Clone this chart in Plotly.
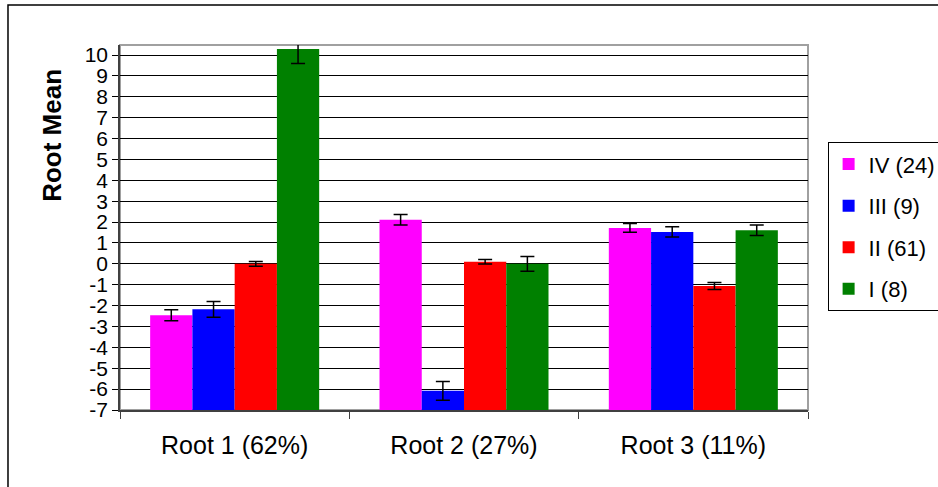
import plotly.graph_objects as go

categories = ["Root 1 (62%)", "Root 2 (27%)", "Root 3 (11%)"]
series_names = ["IV (24)", "III (9)", "II (61)", "I (8)"]
series_colors = ["#ff00ff", "#0000ff", "#ff0000", "#008000"]
values_IV = [-2.46, 2.11, 1.72]
values_III = [-2.18, -6.08, 1.53]
values_II = [0.0, 0.10, -1.06]
values_I = [10.29, 0.0, 1.61]
err_IV = [0.26, 0.25, 0.21]
err_III = [0.38, 0.45, 0.25]
err_II = [0.11, 0.11, 0.17]
err_I = [0.70, 0.35, 0.25]
y_ticks = list(range(-7, 11))
y_min = -7
y_max = 10.48

series_values = [values_IV, values_III, values_II, values_I]
series_errs = [err_IV, err_III, err_II, err_I]

FONT = "Liberation Sans, Arial, sans-serif"

fig = go.Figure()
for name, color, vals, errs in zip(series_names, series_colors, series_values, series_errs):
    fig.add_trace(go.Bar(
        name=name,
        x=categories,
        y=[v - y_min for v in vals],
        base=y_min,
        marker=dict(color=color, line=dict(width=0)),
        error_y=dict(type="data", array=errs, visible=True, color="black",
                     thickness=1.5, width=7),
        legendgroup=name,
        hoverinfo="skip",
    ))

fig.update_layout(
    width=938, height=487,
    margin=dict(l=120, r=130, t=45, b=77, autoexpand=False),
    paper_bgcolor="white",
    plot_bgcolor="white",
    barmode="group",
    bargap=0.263,
    bargroupgap=0,
    font=dict(family=FONT, color="black"),
    showlegend=True,
    legend=dict(
        x=1.0285, y=0.7336, xanchor="left", yanchor="top",
        font=dict(family=FONT, size=22, color="black"),
        bgcolor="white", bordercolor="black", borderwidth=1,
        tracegroupgap=10, traceorder="grouped",
    ),
    xaxis=dict(
        showgrid=False, showline=True, linecolor="#404040", linewidth=1.5,
        ticks="outside", tickson="boundaries", ticklen=7, tickcolor="#404040",
        tickfont=dict(family=FONT, size=25, color="black"),
        ticklabelstandoff=12, automargin=False,
    ),
    yaxis=dict(
        range=[y_min, y_max], tickmode="array", tickvals=y_ticks,
        ticktext=[str(t) for t in y_ticks],
        showgrid=True, gridcolor="black", gridwidth=1,
        showline=True, linecolor="#404040", linewidth=1.5,
        ticks="outside", ticklen=6, tickcolor="black",
        tickfont=dict(family=FONT, size=21, color="black"),
        zeroline=False, automargin=False,
    ),
    shapes=[
        dict(type="rect", xref="paper", yref="paper", x0=0, x1=1, y0=0, y1=1,
             line=dict(color="#a0a0a0", width=2), layer="below"),
        dict(type="rect", xref="paper", yref="paper",
             x0=-0.1628, x1=1.25, y0=-0.3, y1=1.1095,
             line=dict(color="black", width=1.5), layer="above"),
    ],
    annotations=[
        dict(text="<b>Root Mean</b>", xref="paper", yref="paper",
             x=-0.0993, y=0.753, xanchor="center", yanchor="middle",
             textangle=-90, showarrow=False,
             font=dict(family=FONT, size=26, color="black")),
    ],
)

fig.write_html("out.html", config={"displayModeBar": False},
               post_script="document.body.style.margin='0';")
